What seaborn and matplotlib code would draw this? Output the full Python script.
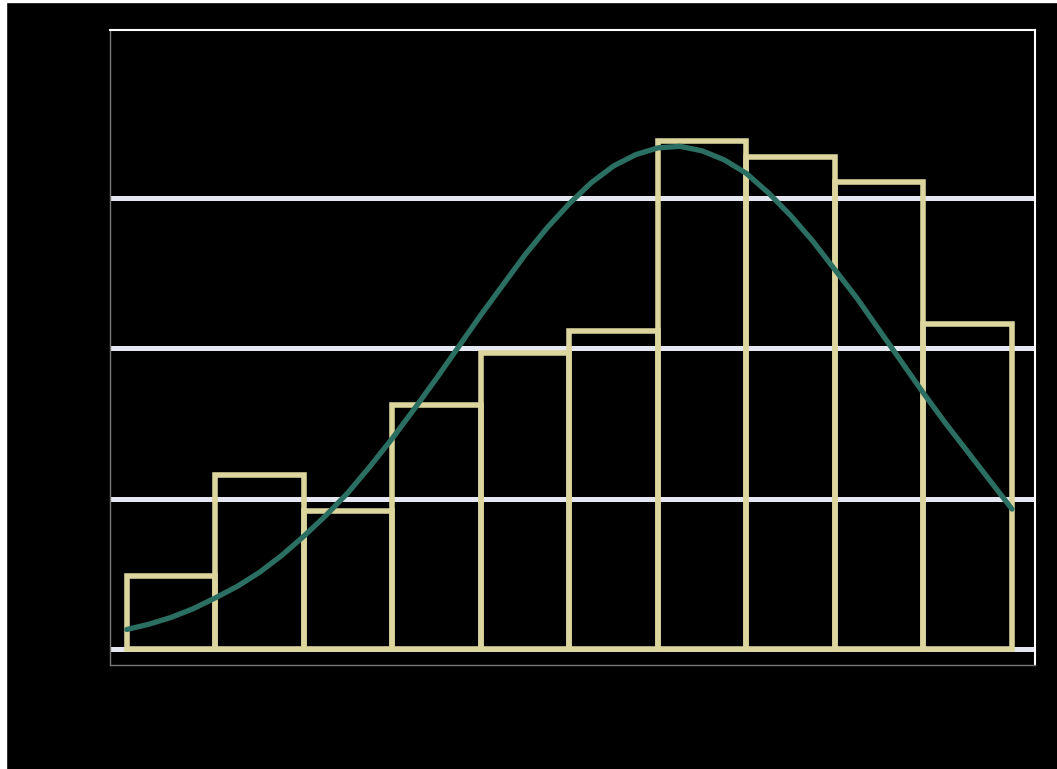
import numpy as np
import matplotlib
matplotlib.use("Agg")
import matplotlib.pyplot as plt
import seaborn as sns
from matplotlib.patches import Rectangle

# bar heights (10 equal bins)
bin_edges = [0, 1, 2, 3, 4, 5, 6, 7, 8, 9, 10]
bar_heights = [0.485, 1.156, 0.917, 1.62, 1.97, 2.11, 3.375, 3.27, 3.10, 2.16]

# smooth density curve
curve_x = [0, 0.25, 0.5, 0.75, 1, 1.25, 1.5, 1.75, 2, 2.25, 2.5, 2.75, 3, 3.25, 3.5, 3.75,
           4, 4.25, 4.5, 4.75, 5, 5.25, 5.5, 5.75, 6, 6.25, 6.5, 6.75, 7, 7.25, 7.5, 7.75,
           8, 8.25, 8.5, 8.75, 9, 9.25, 9.5, 9.75, 10]
curve_y = [0.13, 0.165, 0.21, 0.268, 0.34, 0.417, 0.51, 0.622, 0.75, 0.888, 1.04, 1.215,
           1.40, 1.597, 1.80, 2.01, 2.22, 2.42, 2.62, 2.80, 2.96, 3.10, 3.21, 3.285,
           3.33, 3.34, 3.31, 3.25, 3.16, 3.03, 2.88, 2.71, 2.52, 2.33, 2.12, 1.91, 1.70,
           1.50, 1.31, 1.12, 0.93]

y_ticks = [0, 1, 2, 3]

sns.set_theme(style="dark")
plt.rcParams["font.family"] = ["DejaVu Sans"]

fig = plt.figure(figsize=(10.57, 7.69), dpi=100, facecolor="black")
ax = fig.add_axes([110 / 1057, 1 - 665 / 769, (1035 - 110) / 1057, (665 - 30) / 769])
ax.set_facecolor("black")

# white strips along the left and top edge of the image
fig.patches.append(Rectangle((0, 0), 6 / 1057, 1, transform=fig.transFigure, color="white", zorder=-1))
fig.patches.append(Rectangle((0, 1 - 2 / 769), 1, 2 / 769, transform=fig.transFigure, color="white", zorder=-1))

centers = [(a + b) / 2 for a, b in zip(bin_edges[:-1], bin_edges[1:])]
sns.histplot(x=centers, weights=bar_heights, bins=bin_edges, fill=False,
             color="#ddd59e", linewidth=4.0, ax=ax, zorder=3)
sns.lineplot(x=curve_x, y=curve_y, color="#2b6f63", linewidth=3.8, ax=ax, zorder=4)

ax.set_xlim(-0.19, 10.26)
ax.set_ylim(-0.106, 4.113)
ax.set_yticks(y_ticks)
ax.yaxis.grid(True, color="#e4e6f0", linewidth=3.6, zorder=1)
ax.xaxis.grid(False)
ax.set_axisbelow(True)
ax.tick_params(colors="black", labelcolor="black")
ax.set_xlabel("")
ax.set_ylabel("")

for side in ["top", "right"]:
    ax.spines[side].set_visible(True)
    ax.spines[side].set_color("white")
    ax.spines[side].set_linewidth(1.5)
for side in ["left", "bottom"]:
    ax.spines[side].set_visible(True)
    ax.spines[side].set_color("#777777")
    ax.spines[side].set_linewidth(1.0)

fig.savefig("out.png", dpi=100, facecolor="black")
